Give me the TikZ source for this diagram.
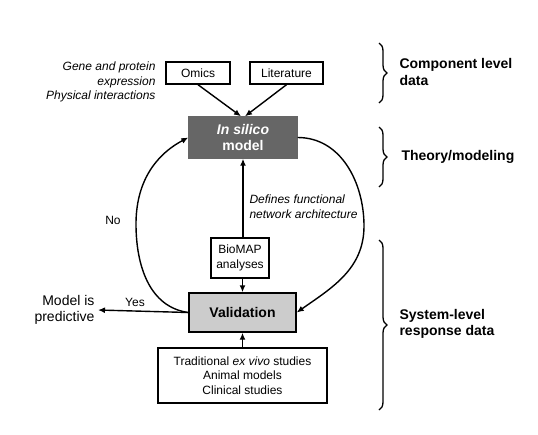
\documentclass[tikz,border=0pt]{standalone}
\usepackage{fontspec}
\setmainfont{Liberation Sans}
\usetikzlibrary{arrows.meta,decorations.pathreplacing}

\begin{document}
\begin{tikzpicture}[x=1pt,y=1pt,
  txt/.style={font=\fontsize{12}{14.5}\selectfont},
  bigtxt/.style={font=\fontsize{14}{15.5}\selectfont},
  boldtxt/.style={font=\bfseries\fontsize{14}{16.5}\selectfont},
  box/.style={draw, line width=1.4pt, inner sep=0pt, align=center},
  arr/.style={line width=1.4pt, -{Latex[length=7pt,width=6pt]}},
  brc/.style={line width=1.3pt, decorate, decoration={brace, amplitude=8pt}}]
  \useasboundingbox (0,0) rectangle (538,-434);
  \coordinate (noturn) at (136,-224);
  \coordinate (fitturn) at (364,-226);
  % boxes
  \node[box, txt, minimum width=64pt, minimum height=22pt] (omics) at (198,-73) {Omics};
  \node[box, txt, minimum width=73pt, minimum height=22pt] (lit) at (286.5,-73) {Literature};
  \node[box, boldtxt, fill=black!60, draw=black!60, text=white,
        minimum width=108pt, minimum height=41pt] (insilico) at (243,-137.5) {\textit{In silico}\\model};
  \node[box, txt, minimum width=58pt, minimum height=40pt] (biomap) at (240,-258) {BioMAP\\analyses};
  \node[box, boldtxt, fill=black!20, minimum width=107pt, minimum height=39pt] (valid) at (242.5,-312.5) {Validation};
  \node[box, txt, minimum width=169pt, minimum height=55pt] (studies) at (242.5,-375.5)
    {Traditional \textit{ex vivo} studies\\Animal models\\Clinical studies};
  % labels
  \node[txt, anchor=east, align=right] (omicsnote) at (159,-82)
    {\textit{Gene and protein}\\\textit{expression}\\\textit{Physical interactions}};
  \node[txt, anchor=west, align=left] (defines) at (246,-206.5)
    {\textit{Defines functional}\\\textit{network architecture}};
  \node[txt] (no) at (113,-220) {No};
  \node[txt] (yes) at (135,-302) {Yes};
  \node[bigtxt, anchor=east, align=right] (pred) at (98,-310) {Model is\\predictive};
  % connectors
  \draw[arr] (omics.south) -- ([xshift=-2pt]insilico.north);
  \draw[arr] (lit.south) -- ([xshift=2pt]insilico.north);
  \draw[arr] (biomap.north -| insilico.south) -- (insilico.south);
  \draw[arr] (biomap.south -| valid.north) -- (valid.north);
  \draw[arr] (studies.north) -- (valid.south);
  \draw[arr] (valid.west) -- (pred.east);
  \draw[arr] (valid.west) to[out=172, in=-90] (noturn) to[out=90, in=208] (insilico.west);
  \draw[arr] (insilico.east) to[out=0, in=90] (fitturn) to[out=-90, in=35] (valid.east);
  % braces
  \draw[brc] (379,-43) -- (379,-103);
  \draw[brc] (379,-127) -- (379,-187);
  \draw[brc] (379,-240) -- (379,-410);
  \node[boldtxt, anchor=west, align=left] (comp) at (396,-72) {Component level\\data};
  \node[boldtxt, anchor=west] (theory) at (398,-157) {Theory/modeling};
  \node[boldtxt, anchor=west, align=left] (system) at (396,-324) {System-level\\response data};
\end{tikzpicture}
\end{document}
